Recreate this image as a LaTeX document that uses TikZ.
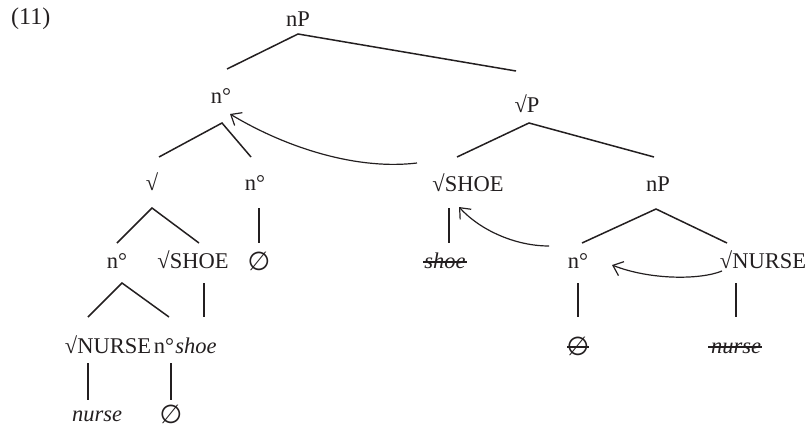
\documentclass[tikz,border=0pt]{standalone}
\usepackage{fontspec}
\setmainfont{Liberation Serif}
\newfontfamily\symf{DejaVu Sans}
\usetikzlibrary{arrows.meta}
\definecolor{ink}{RGB}{35,31,32}
\newcommand{\nul}{{\symf\fontsize{26}{28}\selectfont ∅}}
\begin{document}
\begin{tikzpicture}[x=1pt,y=-1pt,
  every node/.style={anchor=base,inner sep=0pt,text=ink,font=\fontsize{22.5}{26}\selectfont},
  edge/.style={draw=ink,line width=1.5pt},
  mv/.style={draw=ink,line width=1.2pt,-{Straight Barb[length=9pt,width=15pt,line width=1.2pt]}},
  strike/.style={draw=ink,line width=1.4pt}]
\useasboundingbox (0,0) rectangle (808,428);
% labels
\node[anchor=base west,font=\fontsize{24}{28}\selectfont] (ex) at (11,25) {(11)};
\node (nPa) at (298,27) {nP};
\node (na) at (221,103) {n°};
\node (rP) at (527,112) {√P};
\node (rt) at (152,190) {√};
\node (nb) at (255,190) {n°};
\node (shA) at (468,191) {√SHOE};
\node (nPb) at (658,191) {nP};
\node (nc) at (117,268) {n°};
\node (shB) at (193,268) {√SHOE};
\node (ea) at (259,270) {\nul};
\node (shoeA) at (445,268) {\itshape shoe};
\node (nd) at (578,268) {n°};
\node (nuA) at (763,268) {√NURSE};
\node (nuB) at (108,353) {√NURSE};
\node (ne) at (164,353) {n°};
\node (shoeB) at (196,353) {\itshape shoe};
\node (eb) at (578,355) {\nul};
\node (nurseA) at (736,353) {\itshape nurse};
\node (nurseB) at (97,421) {\itshape nurse};
\node (ec) at (171,423) {\nul};
% branches
\draw[edge] ([shift={(6,-34)}]na.base) -- ([shift={(0,7)}]nPa.base) -- ([shift={(-11,-41)}]rP.base);
\draw[edge] ([shift={(7,-33)}]rt.base) -- ([shift={(1,20)}]na.base) -- ([shift={(-4,-33)}]nb.base);
\draw[edge] ([shift={(-11,-34)}]shA.base) -- ([shift={(2,11)}]rP.base) -- ([shift={(-4,-34)}]nPb.base);
\draw[edge] ([shift={(0,-25)}]nc.base) -- ([shift={(0,18)}]rt.base) -- ([shift={(6,-25)}]shB.base);
\draw[edge] ([shift={(4,18)}]nb.base) -- ([shift={(0,-27)}]ea.base);
\draw[edge] ([shift={(-19,17)}]shA.base) -- ([shift={(4,-25)}]shoeA.base);
\draw[edge] ([shift={(4,-25)}]nd.base) -- ([shift={(-2,18)}]nPb.base) -- ([shift={(-36,-25)}]nuA.base);
\draw[edge] ([shift={(-20,-36)}]nuB.base) -- ([shift={(5,15)}]nc.base) -- ([shift={(5,-36)}]ne.base);
\draw[edge] ([shift={(11,15)}]shB.base) -- ([shift={(8,-36)}]shoeB.base);
\draw[edge] ([shift={(0,15)}]nd.base) -- ([shift={(0,-38)}]eb.base);
\draw[edge] ([shift={(-27,15)}]nuA.base) -- ([shift={(0,-36)}]nurseA.base);
\draw[edge] ([shift={(-20,10)}]nuB.base) -- ([shift={(-9,-21)}]nurseB.base);
\draw[edge] ([shift={(7,10)}]ne.base) -- ([shift={(0,-23)}]ec.base);
% strikes
\draw[strike] ([shift={(-22,-6)}]shoeA.base) -- ([shift={(22,-6)}]shoeA.base);
\draw[strike] ([shift={(-11,-8)}]eb.base) -- ([shift={(11,-8)}]eb.base);
\draw[strike] ([shift={(-28,-6)}]nurseA.base) -- ([shift={(26,-6)}]nurseA.base);
% movement arrows
\draw[mv] ([shift={(-51,-28)}]shA.base) .. controls (360,170) and (290,150) .. ([shift={(9,11)}]na.base);
\draw[mv] ([shift={(-29,-22)}]nd.base) .. controls (515,246) and (480,230) .. ([shift={(-9,16)}]shA.base);
\draw[mv] ([shift={(-41,3)}]nuA.base) .. controls (700,280) and (650,280) .. ([shift={(34,-3)}]nd.base);
\end{tikzpicture}
\end{document}
